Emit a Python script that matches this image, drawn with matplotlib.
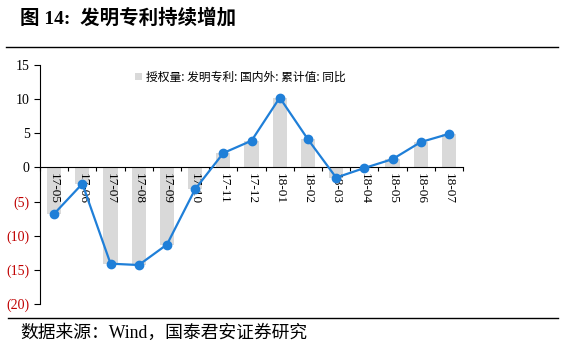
import matplotlib.pyplot as plt
import numpy as np
from matplotlib.lines import Line2D

# data
months = ["17-05", "17-06", "17-07", "17-08", "17-09", "17-10", "17-11", "17-12",
          "18-01", "18-02", "18-03", "18-04", "18-05", "18-06", "18-07"]
yoy = [-6.8, -2.4, -14.1, -14.3, -11.3, -3.2, 2.1, 3.9,
       10.2, 4.1, -1.5, -0.1, 1.2, 3.7, 4.9]
legend_label = "授权量: 发明专利: 国内外: 累计值: 同比"

cjk = ['Noto Sans CJK SC', 'DejaVu Sans']
serif = ['Liberation Serif', 'Noto Sans CJK SC']

fig = plt.figure(figsize=(5.64, 3.47), dpi=100)
ax = fig.add_axes([0.071, 0.124, 0.75, 0.689])

x = np.arange(len(months))
ax.bar(x, yoy, width=0.5, color='#d9d9d9', label=legend_label, zorder=1)
ax.plot(x, yoy, color='#1f7fd8', lw=1.6, marker='o', ms=6, zorder=3)

ax.set_xlim(-0.5, len(months) - 0.5)
ax.set_ylim(-20, 15)
ax.set_yticks(np.arange(-20, 16, 5))
ytl = ax.set_yticklabels([f"({abs(v)})" if v < 0 else str(v) for v in range(-20, 16, 5)],
                         family='Liberation Serif', fontsize=10)
for t, v in zip(ytl, range(-20, 16, 5)):
    if v < 0:
        t.set_color('#c00000')
ax.tick_params(axis='y', length=4, direction='out', width=0.8)

for s in ['top', 'right']:
    ax.spines[s].set_visible(False)
ax.spines['bottom'].set_position(('data', 0))
ax.spines['bottom'].set_zorder(2)

ax.set_xticks(x)
ax.set_xticklabels(months, rotation=270, family='Liberation Serif', fontsize=9.5)
ax.tick_params(axis='x', which='major', length=0, pad=4)
ax.set_xticks(np.arange(-0.5, len(months)), minor=True)
ax.tick_params(axis='x', which='minor', length=3, direction='out', width=0.8)

ax.legend(loc='upper left', bbox_to_anchor=(0.2, 1.02), frameon=False,
          prop={'family': cjk, 'size': 8.5}, handlelength=0.6, handleheight=0.6,
          handletextpad=0.3)

fig.text(0.036, 0.95, "图 14:  发明专利持续增加", fontsize=14, fontweight='bold',
         family=serif, va='center')
fig.add_artist(Line2D([0.01, 0.99], [0.865, 0.865], color='black', lw=1.0))
fig.add_artist(Line2D([0.014, 0.99], [0.083, 0.083], color='black', lw=1.0))
fig.text(0.036, 0.04, "数据来源：Wind，国泰君安证券研究", fontsize=12.8,
         family=serif, va='center')

fig.savefig('out.png', dpi=100)
